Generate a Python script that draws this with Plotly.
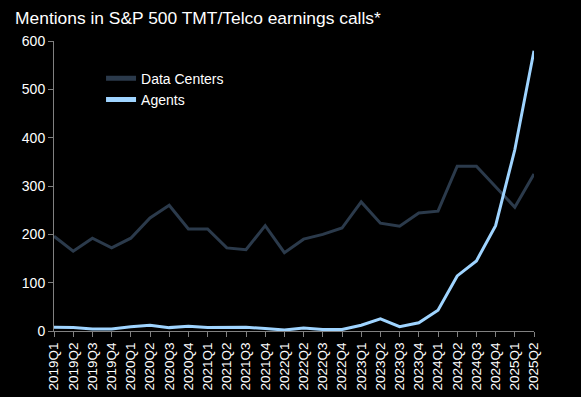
import plotly.graph_objects as go

quarters = [f"{y}Q{q}" for y in range(2019, 2026) for q in range(1, 5)][:26]
data_centers = [196, 165, 192, 172, 192, 234, 260, 211, 211, 172, 168, 218, 162,
                190, 200, 213, 267, 223, 217, 244, 248, 341, 341, 298, 256, 325]
agents = [8, 7, 4, 4, 9, 12, 7, 10, 7, 8, 8, 5, 2, 6, 3, 3, 12, 25, 9, 17,
          43, 114, 145, 218, 375, 580]
y_ticks = [0, 100, 200, 300, 400, 500, 600]

fig = go.Figure()
fig.add_trace(go.Scatter(x=list(range(len(quarters))), y=data_centers, mode="lines",
                         name="Data Centers", line=dict(color="#2b3a4b", width=3)))
fig.add_trace(go.Scatter(x=list(range(len(quarters))), y=agents, mode="lines",
                         name="Agents", line=dict(color="#9fd4ff", width=3)))

fig.update_layout(
    width=581, height=397,
    paper_bgcolor="black", plot_bgcolor="black",
    margin=dict(l=54, r=47, t=41, b=66, autoexpand=False),
    font=dict(family="Liberation Sans, Arial", color="white", size=14),
    title=dict(text="Mentions in S&P 500 TMT/Telco earnings calls*", x=0.026, xanchor="left",
               y=0.94, yanchor="bottom", font=dict(size=17.4, color="white")),
    showlegend=True,
    legend=dict(x=0.098, y=0.925, xanchor="left", yanchor="top", bgcolor="rgba(0,0,0,0)",
                font=dict(size=14, color="white"), tracegroupgap=0, itemsizing="constant"),
)
fig.update_xaxes(
    range=[0, len(quarters) - 1], tickmode="array", automargin=False,
    tickvals=list(range(len(quarters))), ticktext=quarters, tickangle=-90,
    showgrid=False, zeroline=False, showline=True, linecolor="#808080", linewidth=1,
    ticks="outside", ticklen=5, tickcolor="#808080", tickfont=dict(size=13.5, color="white"),
)
fig.update_yaxes(
    range=[0, 600], tickvals=y_ticks, showgrid=False, zeroline=False, automargin=False,
    showline=True, linecolor="#808080", linewidth=1,
    ticks="outside", ticklen=5, tickcolor="#808080", tickfont=dict(size=14, color="white"),
)

fig.write_html("out.html", config={"displayModeBar": False},
               post_script="document.body.style.margin='0px';document.body.style.overflow='hidden';")
